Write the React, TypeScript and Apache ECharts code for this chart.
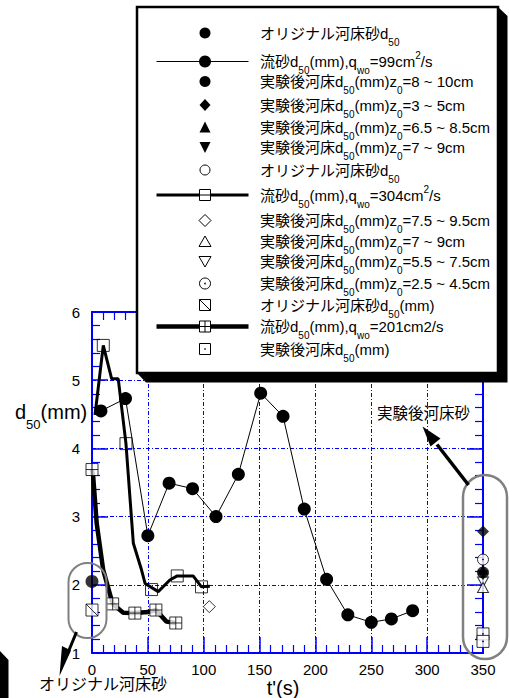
import React, { useEffect, useRef } from 'react';
import * as echarts from 'echarts';

const F = "'Liberation Sans', Arial, 'Noto Sans CJK JP', sans-serif";
const BLUE = '#0000ff';

// ---------- data ----------
const xRange = [0, 350];
const xStep = 50;
const yRange = [1, 6];
const yStep = 1;

// q_wo = 99 cm2/s  (thin line, filled circles)
const q99Points = [
  [8, 4.55], [30, 4.73], [50, 2.72], [69, 3.49], [90, 3.41], [111, 3.0], [131, 3.62],
  [151, 4.81], [171, 4.47], [190, 3.11], [210, 2.08], [229, 1.56], [250, 1.45], [268, 1.5], [287, 1.62],
];
// q_wo = 304 cm2/s (medium line, open squares)
const q304Path = [
  [2.7, 4.49], [10.1, 5.51], [17.6, 5.02], [23.5, 5.02], [30.4, 4.07], [37, 2.61], [44.3, 2.22],
  [47.5, 2.02], [59.3, 1.9], [69.7, 2.07], [76.3, 2.13], [90.5, 2.13], [98, 1.97], [105.5, 1.98],
];
const q304Markers = [[10.1, 5.51], [30.4, 4.07], [53.3, 1.93], [76.3, 2.13], [98, 1.97]];
// q_wo = 201 cm2/s (thick line, crossed squares)
const q201Path = [
  [0, 3.69], [1, 3.6], [4.2, 2.9], [10, 2.22], [18.5, 1.72], [28, 1.59], [38.4, 1.585],
  [50.3, 1.6], [57.2, 1.63], [66.7, 1.46], [75, 1.44],
];
const q201Markers = [[0, 3.69], [18.5, 1.72], [38.4, 1.585], [57.2, 1.63], [75, 1.44]];
// original bed sand
const originalFilled = [[0, 2.05]];
const originalHatched = [[0, 1.63]];
// bed after experiment
const bedZ8to10 = [[350, 2.18]];
const bedZ3to5 = [[350, 2.78]];
const bedZ65to85 = [[350, 2.22]];
const bedZ7to9Filled = [[350, 2.14]];
const bedZ75to95 = [[105, 1.68]];
const bedZ7to9Open = [[350, 1.96]];
const bedZ55to75 = [[350, 2.04]];
const bedZ25to45 = [[350, 2.37]];
const bedPlain = [[350, 1.28], [350, 1.17]];

const legendLabels = [
  '{m|オリジナル河床砂d}{s|50}',
  '{m|流砂d}{s|50}{m|(mm),q}{s|wo}{m|=99cm}{p|2}{m|/s}',
  '{m|実験後河床d}{s|50}{m|(mm)z}{s|0}{m|=8 ~ 10cm}',
  '{m|実験後河床d}{s|50}{m|(mm)z}{s|0}{m|=3 ~ 5cm}',
  '{m|実験後河床d}{s|50}{m|(mm)z}{s|0}{m|=6.5 ~ 8.5cm}',
  '{m|実験後河床d}{s|50}{m|(mm)z}{s|0}{m|=7 ~ 9cm}',
  '{m|オリジナル河床砂d}{s|50}',
  '{m|流砂d}{s|50}{m|(mm),q}{s|wo}{m|=304cm}{p|2}{m|/s}',
  '{m|実験後河床d}{s|50}{m|(mm)z}{s|0}{m|=7.5 ~ 9.5cm}',
  '{m|実験後河床d}{s|50}{m|(mm)z}{s|0}{m|=7 ~ 9cm}',
  '{m|実験後河床d}{s|50}{m|(mm)z}{s|0}{m|=5.5 ~ 7.5cm}',
  '{m|実験後河床d}{s|50}{m|(mm)z}{s|0}{m|=2.5 ~ 4.5cm}',
  '{m|オリジナル河床砂d}{s|50}{m|(mm)}',
  '{m|流砂d}{s|50}{m|(mm),q}{s|wo}{m|=201cm2/s}',
  '{m|実験後河床d}{s|50}{m|(mm)}',
];
const legendSymbols = [
  'dot', 'dotline1', 'dot', 'diamond', 'tri', 'dtri', 'ocircle', 'squareline',
  'odiamond', 'otri', 'odtri', 'dotcircle', 'hatchsquare', 'crossline', 'dotsquare',
];

// ---------- layout ----------
const legendRowY = [33, 61.5, 81.5, 105, 127.5, 147, 170, 195, 220.5, 241.5, 261.5, 283.5, 305, 326.5, 349];
const LEG_SYM_X = 205;
const LEG_TEXT_X = 260;

const SYM_CROSS = 'path://M0,0H10V10H0Z M5,0V10 M0,5H10';
const SYM_HATCH = 'path://M0,0H10V10H0Z M0,0L10,10';
const SYM_DOTSQ = 'path://M0,0H10V10H0Z M4.6,4.6H5.4V5.4H4.6Z';
const SYM_DOTCIRCLE = 'path://M0,5A5,5,0,1,1,10,5A5,5,0,1,1,0,5Z M4.6,4.6H5.4V5.4H4.6Z';
const SYM_DTRI = 'path://M0,0H10L5,9Z';

const RICH = {
  m: { fontSize: 15, fontFamily: F, fill: '#000', lineHeight: 28 },
  s: { fontSize: 10, fontFamily: F, fill: '#000', verticalAlign: 'bottom', height: 10 },
  p: { fontSize: 10, fontFamily: F, fill: '#000', verticalAlign: 'top', height: 16 },
};

function legendSymbol(kind: string, cx: number, cy: number): any[] {
  const open = { fill: '#fff', stroke: '#000', lineWidth: 1 };
  const blk = { fill: '#000' };
  const Z = 62;
  const line = (w: number) => ({ type: 'line', z: Z - 1, shape: { x1: 156.5, y1: cy, x2: 248.5, y2: cy }, style: { stroke: '#000', lineWidth: w } });
  const sq = (extra: any[] = []) => [
    { type: 'rect', z: Z, shape: { x: cx - 5.5, y: cy - 5.5, width: 11, height: 11 }, style: open },
    ...extra,
  ];
  switch (kind) {
    case 'dot':
      return [{ type: 'circle', z: Z, shape: { cx, cy, r: 5.5 }, style: blk }];
    case 'dotline1':
      return [line(1), { type: 'circle', z: Z, shape: { cx, cy, r: 6 }, style: blk }];
    case 'diamond':
      return [{ type: 'polygon', z: Z, shape: { points: [[cx, cy - 6], [cx + 5.5, cy], [cx, cy + 6], [cx - 5.5, cy]] }, style: blk }];
    case 'tri':
      return [{ type: 'polygon', z: Z, shape: { points: [[cx, cy - 6], [cx + 5.5, cy + 5], [cx - 5.5, cy + 5]] }, style: blk }];
    case 'dtri':
      return [{ type: 'polygon', z: Z, shape: { points: [[cx - 5.5, cy - 5], [cx + 5.5, cy - 5], [cx, cy + 6]] }, style: blk }];
    case 'ocircle':
      return [{ type: 'circle', z: Z, shape: { cx, cy, r: 5 }, style: open }];
    case 'squareline':
      return [line(3), ...sq([{ type: 'line', z: Z, shape: { x1: cx - 5.5, y1: cy, x2: cx + 5.5, y2: cy }, style: { stroke: '#000', lineWidth: 1 } }])];
    case 'odiamond':
      return [{ type: 'polygon', z: Z, shape: { points: [[cx, cy - 6], [cx + 6, cy], [cx, cy + 6], [cx - 6, cy]] }, style: open }];
    case 'otri':
      return [{ type: 'polygon', z: Z, shape: { points: [[cx, cy - 5.5], [cx + 6, cy + 5], [cx - 6, cy + 5]] }, style: open }];
    case 'odtri':
      return [{ type: 'polygon', z: Z, shape: { points: [[cx - 6, cy - 5], [cx + 6, cy - 5], [cx, cy + 5.5]] }, style: open }];
    case 'dotcircle':
      return [
        { type: 'circle', z: Z, shape: { cx, cy, r: 5.5 }, style: open },
        { type: 'circle', z: Z + 1, shape: { cx, cy, r: 0.8 }, style: blk },
      ];
    case 'hatchsquare':
      return sq([{ type: 'line', z: Z + 1, shape: { x1: cx - 5.5, y1: cy - 5.5, x2: cx + 5.5, y2: cy + 5.5 }, style: { stroke: '#000', lineWidth: 1 } }]);
    case 'crossline':
      return [line(4.5), ...sq([
        { type: 'line', z: Z + 1, shape: { x1: cx - 5.5, y1: cy, x2: cx + 5.5, y2: cy }, style: { stroke: '#000', lineWidth: 1 } },
        { type: 'line', z: Z + 1, shape: { x1: cx, y1: cy - 5.5, x2: cx, y2: cy + 5.5 }, style: { stroke: '#000', lineWidth: 1 } },
      ])];
    case 'dotsquare':
      return sq([{ type: 'rect', z: Z + 1, shape: { x: cx - 0.7, y: cy - 0.7, width: 1.4, height: 1.4 }, style: blk }]);
  }
  return [];
}

function buildOption(): any {
  const axisCommonX = {
    type: 'value', min: xRange[0], max: xRange[1], interval: xStep,
    axisLine: { show: true, onZero: false, lineStyle: { color: BLUE, width: 2 } },
    axisTick: { show: true, inside: true, length: 16, lineStyle: { color: BLUE, width: 1.5 } },
    minorTick: { show: true, splitNumber: 5, length: 8, lineStyle: { color: BLUE, width: 1.2 } },
  };
  const axisCommonY = {
    type: 'value', min: yRange[0], max: yRange[1], interval: yStep,
    axisLine: { show: true, onZero: false, lineStyle: { color: BLUE, width: 2 } },
    axisTick: { show: true, inside: true, length: 16, lineStyle: { color: BLUE, width: 1.5 } },
    minorTick: { show: true, splitNumber: 5, length: 8, lineStyle: { color: BLUE, width: 1.2 } },
  };
  const gridLine = { show: true, lineStyle: { color: BLUE, width: 1, type: [4, 2, 1, 2], opacity: 1 } };
  const label = { color: '#000', fontSize: 15, fontFamily: F };
  const openStyle = { color: '#fff', borderColor: '#000', borderWidth: 1 };
  const hollowStyle = { color: 'rgba(0,0,0,0)', borderColor: '#000', borderWidth: 1 };

  const graphics: any[] = [];
  // legend shadow + box
  graphics.push({
    type: 'polygon', z: 50,
    shape: { points: [[137, 373], [146, 382.5], [507.5, 382.5], [507.5, 16], [498, 7], [498, 373]] },
    style: { fill: '#000' },
  });
  graphics.push({
    type: 'rect', z: 51,
    shape: { x: 137, y: 7, width: 361, height: 366 },
    style: { fill: '#fff', stroke: '#000', lineWidth: 2.5 },
  });
  legendLabels.forEach((t, i) => {
    const y = legendRowY[i];
    graphics.push(...legendSymbol(legendSymbols[i], LEG_SYM_X, y));
    graphics.push({
      type: 'text', z: 62, x: LEG_TEXT_X, y,
      style: { text: t, rich: RICH, fill: '#000', fontSize: 15, fontFamily: F, align: 'left', verticalAlign: 'middle' },
    });
  });
  // axis names
  graphics.push({
    type: 'text', z: 40, x: 15, y: 412,
    style: {
      text: '{a|d}{b|50}{a|(mm)}', verticalAlign: 'middle', align: 'left',
      rich: {
        a: { fontSize: 20, fontFamily: F, fill: '#000', lineHeight: 38 },
        b: { fontSize: 13, fontFamily: F, fill: '#000', verticalAlign: 'bottom', height: 13 },
      },
    },
  });
  graphics.push({
    type: 'text', z: 40, x: 283, y: 688,
    style: { text: "t'(s)", fontSize: 20, fontFamily: F, fill: '#000', align: 'center', verticalAlign: 'middle' },
  });
  // annotations
  graphics.push({
    type: 'rect', z: 40, shape: { x: 68.5, y: 563, width: 38, height: 75, r: 19 },
    style: { fill: 'none', stroke: '#808080', lineWidth: 2 },
  });
  graphics.push({
    type: 'rect', z: 40, shape: { x: 463, y: 475, width: 44, height: 184, r: 22 },
    style: { fill: 'none', stroke: '#808080', lineWidth: 2.5 },
  });
  graphics.push({ type: 'line', z: 41, shape: { x1: 76.5, y1: 632, x2: 67, y2: 655 }, style: { stroke: '#000', lineWidth: 3 } });
  graphics.push({ type: 'polygon', z: 41, shape: { points: [[59.5, 676], [62, 646], [71, 650.5]] }, style: { fill: '#000' } });
  graphics.push({ type: 'line', z: 41, shape: { x1: 468.5, y1: 485, x2: 437, y2: 444.5 }, style: { stroke: '#000', lineWidth: 3.5 } });
  graphics.push({ type: 'polygon', z: 41, shape: { points: [[422.5, 426.5], [440.5, 438.5], [430.5, 446.5]] }, style: { fill: '#000' } });
  graphics.push({
    type: 'text', z: 41, x: 39, y: 684,
    style: { text: 'オリジナル河床砂', fontSize: 16, fontFamily: F, fill: '#000', align: 'left', verticalAlign: 'middle' },
  });
  graphics.push({
    type: 'text', z: 41, x: 377, y: 413,
    style: { text: '実験後河床砂', fontSize: 15.5, fontFamily: F, fill: '#000', align: 'left', verticalAlign: 'middle' },
  });
  graphics.push({ type: 'polygon', z: 41, shape: { points: [[0, 651], [8.5, 660], [8.5, 698], [0, 698]] }, style: { fill: '#000' } });

  return {
    animation: false,
    backgroundColor: '#fff',
    grid: { left: 92, right: 26, top: 312, bottom: 45 },
    xAxis: [
      { ...axisCommonX, position: 'bottom', splitLine: gridLine, axisLabel: { ...label, margin: 9 } },
      { ...axisCommonX, position: 'top', splitLine: { show: false }, axisLabel: { show: false } },
    ],
    yAxis: [
      { ...axisCommonY, position: 'left', splitLine: gridLine, axisLabel: { ...label, margin: 12 } },
      { ...axisCommonY, position: 'right', splitLine: { show: false }, axisLabel: { show: false } },
    ],
    graphic: graphics,
    series: [
      { type: 'line', data: q304Path, symbol: 'none', lineStyle: { color: '#000', width: 3 }, z: 3 },
      { type: 'line', data: q201Path, symbol: 'none', lineStyle: { color: '#000', width: 4.5 }, z: 3 },
      { type: 'line', data: q99Points, symbol: 'circle', symbolSize: 13, itemStyle: { color: '#000' }, lineStyle: { color: '#000', width: 1 }, z: 4 },
      { type: 'scatter', data: q304Markers, symbol: 'rect', symbolSize: 12, itemStyle: hollowStyle, z: 6 },
      { type: 'scatter', data: q201Markers, symbol: SYM_CROSS, symbolSize: 12, itemStyle: openStyle, z: 6 },
      { type: 'scatter', data: originalFilled, symbol: 'circle', symbolSize: 13, itemStyle: { color: '#000' }, z: 6 },
      { type: 'scatter', data: originalHatched, symbol: SYM_HATCH, symbolSize: 12, itemStyle: openStyle, z: 6 },
      { type: 'scatter', data: bedPlain, symbol: SYM_DOTSQ, symbolSize: 12, itemStyle: openStyle, z: 6 },
      { type: 'scatter', data: bedZ55to75, symbol: SYM_DTRI, symbolSize: [11, 10], itemStyle: openStyle, z: 6 },
      { type: 'scatter', data: bedZ7to9Open, symbol: 'triangle', symbolSize: [11, 10], itemStyle: openStyle, z: 6 },
      { type: 'scatter', data: bedZ25to45, symbol: SYM_DOTCIRCLE, symbolSize: 11, itemStyle: openStyle, z: 6 },
      { type: 'scatter', data: bedZ75to95, symbol: 'diamond', symbolSize: 12, itemStyle: openStyle, z: 6 },
      { type: 'scatter', data: bedZ7to9Filled, symbol: SYM_DTRI, symbolSize: [11, 10], itemStyle: { color: '#000' }, z: 7 },
      { type: 'scatter', data: bedZ65to85, symbol: 'triangle', symbolSize: [11, 10], itemStyle: { color: '#000' }, z: 7 },
      { type: 'scatter', data: bedZ8to10, symbol: 'circle', symbolSize: 12, itemStyle: { color: '#000' }, z: 7 },
      { type: 'scatter', data: bedZ3to5, symbol: 'diamond', symbolSize: 12, itemStyle: { color: '#000' }, z: 7 },
    ],
  };
}

export default function App() {
  const ref = useRef<HTMLDivElement>(null);
  useEffect(() => {
    if (!ref.current) return;
    const chart = echarts.init(ref.current, null, { renderer: 'svg' });
    chart.setOption(buildOption());
    return () => chart.dispose();
  }, []);
  return (
    <div
      ref={ref}
      style={{ position: 'fixed', left: 0, top: 0, width: 509, height: 698, background: '#fff' }}
    />
  );
}
